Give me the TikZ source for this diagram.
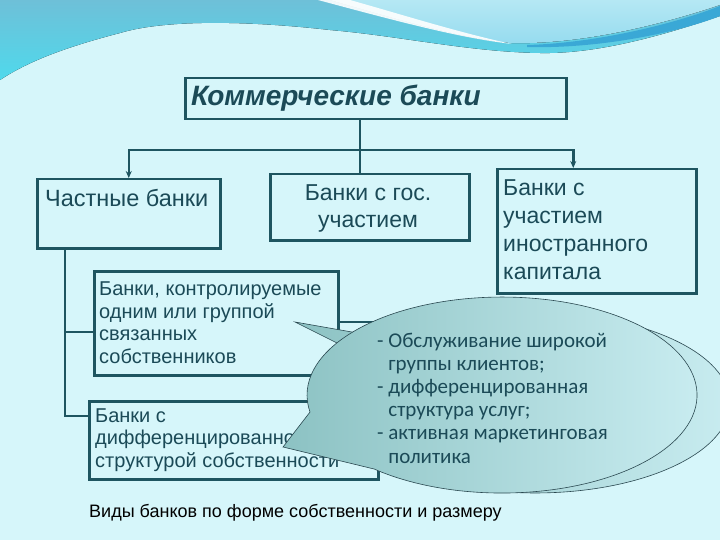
\documentclass[tikz,border=0pt]{standalone}
\usepackage{fontspec}
\setmainfont{Liberation Sans}
\newfontfamily\calfont{Carlito}
\usetikzlibrary{arrows.meta}
\definecolor{bgc}{HTML}{D6F6FA}
\definecolor{boxc}{HTML}{1E5560}
\definecolor{txtc}{HTML}{1B4A57}
\definecolor{waveA}{HTML}{6EC0D8}
\definecolor{waveB}{HTML}{4FD9EC}
\definecolor{waveL}{HTML}{95DBEF}
\definecolor{waveT}{HTML}{B5E8F4}
\definecolor{waveD}{HTML}{3AA8D6}
\definecolor{callL}{HTML}{8CC2C3}
\definecolor{callR}{HTML}{CBEEF2}
\definecolor{callE}{HTML}{2A4850}
\begin{document}
\begin{tikzpicture}[x=1pt,y=-1pt,
  box/.style={draw=boxc,line width=2.5pt,inner sep=0pt,anchor=north west},
  conn/.style={draw=boxc,line width=2.5pt},
  arr/.style={-{Stealth[length=7pt,width=6pt]}},
  txt/.style={text=txtc,inner sep=0pt,anchor=base west,align=left},
  bubble/.style={left color=callL,right color=callR,draw=callE,line width=0.6pt}]
\useasboundingbox (0,0) rectangle (720,540);
% background
\fill[bgc] (0,0) rectangle (720,540);
% top wave
\fill[top color=waveA,bottom color=waveB] (0,0) -- (720,0) -- (720,16)
  .. controls (650,40) and (590,54) .. (540,53)
  .. controls (470,52) and (400,36) .. (330,30)
  .. controls (260,22) and (170,18) .. (120,33)
  .. controls (70,46) and (30,60) .. (0,80) -- cycle;
\fill[top color=waveT,bottom color=waveL] (330,0) .. controls (400,20) and (460,38) .. (510,43)
  .. controls (580,45) and (660,25) .. (720,5) -- (720,0) -- cycle;
\fill[white,opacity=0.9] (318,0) .. controls (400,22) and (460,38) .. (512,44)
  .. controls (460,33) and (400,14) .. (350,0) -- cycle;
\fill[waveD] (527,45) .. controls (600,43) and (680,22) .. (720,6) -- (720,16)
  .. controls (680,32) and (600,49) .. (527,47) -- cycle;
% boxes (multi-line texts are placed by the baseline of their last line)
\node[box,minimum width=381,minimum height=41] (top) at (184,77) {};
\node[txt,font=\fontsize{28}{30}\selectfont\bfseries\itshape] (toptext) at (191,106) {Коммерческие банки};
\node[box,minimum width=183,minimum height=69] (priv) at (36,178) {};
\node[txt,font=\fontsize{23.5}{28}\selectfont] (privtext) at (45,207) {Частные банки};
\node[box,minimum width=199,minimum height=66] (mid) at (269,173) {};
\node[txt,anchor=base,align=center,font=\fontsize{23}{27}\selectfont] (midtext) at (368,228) {Банки с гос.\\участием};
\node[box,minimum width=199,minimum height=124] (forn) at (496,168) {};
\node[txt,font=\fontsize{23}{28}\selectfont] (forntext) at (503,279) {Банки с\\участием\\иностранного\\капитала};
\node[box,minimum width=244,minimum height=104] (sub1) at (93,270) {};
\node[txt,font=\fontsize{20}{22.5}\selectfont] (sub1text) at (99,363) {Банки, контролируемые\\одним или группой\\связанных\\собственников};
\node[box,minimum width=289,minimum height=78] (sub2) at (88,400) {};
\node[txt,font=\fontsize{20}{22.5}\selectfont] (sub2text) at (95,467) {Банки с\\дифференцированной\\структурой собственности};
% connectors
\coordinate (j) at (360,150);
\draw[conn] (top.south -| j) -- (mid.north -| j);
\draw[conn,arr] (j) -| (priv.north);
\draw[conn,arr] (j) -| ([xshift=-23.5pt]forn.north);
\coordinate (b) at ([xshift=29pt]priv.south west);
\draw[conn] (b) |- ([yshift=-62pt]sub1.north west);
\draw[conn] (b) |- ([yshift=-16pt]sub2.north west);
\draw[conn] ([yshift=-52pt]sub1.north east) -- +(80,0);
% callouts
\path[bubble] (396.2,339.8) arc[start angle=-135.4,end angle=210.2,x radius=195,y radius=90] -- (295,322) -- cycle;
\path[bubble] (374.1,469.0) arc[start angle=131,end angle=-190,x radius=195,y radius=98] -- (283,447) -- cycle;
\node[txt,font=\calfont\fontsize{21}{23.2}\selectfont] (ctext) at (377,463) {- Обслуживание широкой\\\phantom{- }группы клиентов;\\- дифференцированная\\\phantom{- }структура услуг;\\- активная маркетинговая\\\phantom{- }политика};
% caption
\node[txt,text=black,font=\fontsize{18}{20}\selectfont] (caption) at (89,517) {Виды банков по форме собственности и размеру};
\end{tikzpicture}
\end{document}
